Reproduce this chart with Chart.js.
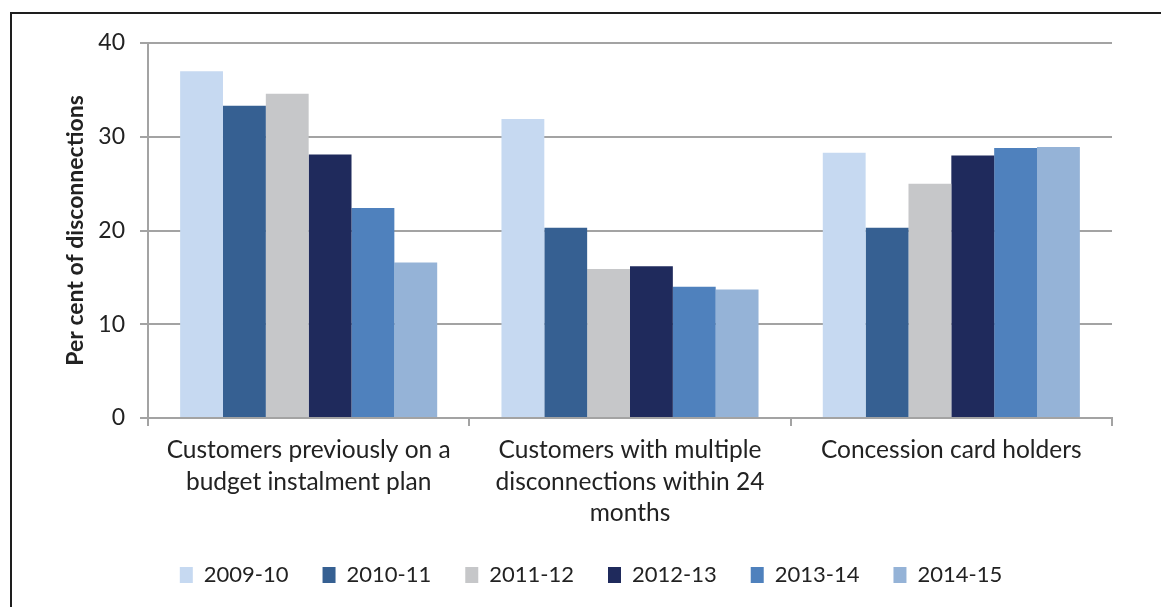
<!DOCTYPE html>
<html>
<head>
<meta charset="utf-8">
<script src="https://cdn.jsdelivr.net/npm/chart.js@4/dist/chart.umd.min.js"></script>
<style>
  html, body { margin: 0; padding: 0; background: #fff; }
  body { width: 1161px; height: 607px; position: relative; overflow: hidden; }
  /* frame: only top and left edges show in the reference */
  #frame {
    position: absolute; left: 10px; top: 12px; width: 1151px; height: 595px;
    border-top: 2px solid #1e1e1e; border-left: 2px solid #1e1e1e;
    box-sizing: border-box;
  }
  #wrap { position: absolute; left: 0; top: 0; width: 1149px; height: 593px; }
</style>
</head>
<body>
<div id="frame"><div id="wrap"><canvas id="chart"></canvas></div></div>
<script>
  // ---- Data -----------------------------------------------
  const categories = [
    ['Customers previously on a', 'budget instalment plan'],
    ['Customers with multiple', 'disconnections within 24', 'months'],
    ['Concession card holders']
  ];
  const seriesNames = ['2009-10', '2010-11', '2011-12', '2012-13', '2013-14', '2014-15'];
  const v2009 = [37.0, 31.9, 28.3];
  const v2010 = [33.3, 20.3, 20.3];
  const v2011 = [34.6, 15.9, 25.0];
  const v2012 = [28.1, 16.2, 28.0];
  const v2013 = [22.4, 14.0, 28.8];
  const v2014 = [16.6, 13.7, 28.9];
  const yTicks = [0, 10, 20, 30, 40];

  const seriesValues = [v2009, v2010, v2011, v2012, v2013, v2014];
  const COLORS = ['#C6D9F1', '#366092', '#C6C7C9', '#1F2A5C', '#4F81BD', '#95B3D7'];
  const GRID = '#A3A3A3';
  const TEXT = '#222222';
  const FONT = "Lato, 'Open Sans', sans-serif";

  const LEGEND_H = 77;
  const LEGEND_SHIFT = 29; // legend row sits a bit right of canvas centre

  // Force legend height so the plot keeps its size, and nudge it right
  const legendFix = {
    id: 'legendFix',
    beforeLayout(chart) {
      const lg = chart.legend;
      if (lg && !lg._fixedH) {
        const fit = lg.fit;
        lg.fit = function () { fit.call(this); this.height = LEGEND_H; };
        lg._fixedH = true;
      }
    },
    afterLayout(chart) {
      const lg = chart.legend;
      if (lg) { lg.left += LEGEND_SHIFT; lg.right += LEGEND_SHIFT; }
    }
  };

  new Chart(document.getElementById('chart'), {
    type: 'bar',
    data: {
      labels: categories,
      datasets: seriesNames.map((name, i) => ({
        label: name,
        data: seriesValues[i],
        backgroundColor: COLORS[i],
        borderWidth: 0,
        categoryPercentage: 0.8,
        barPercentage: 1.0
      }))
    },
    plugins: [legendFix],
    options: {
      responsive: true,
      maintainAspectRatio: false,
      animation: false,
      layout: { padding: { top: 29, right: 49, bottom: 0, left: 0 } },
      plugins: {
        tooltip: { enabled: false },
        legend: {
          position: 'bottom',
          labels: {
            color: TEXT,
            font: { family: FONT, size: 22 },
            boxWidth: 13,
            boxHeight: 16,
            padding: 34
          }
        }
      },
      scales: {
        x: {
          grid: {
            display: true,
            drawOnChartArea: false,
            drawTicks: true,
            tickLength: 8,
            color: GRID,
            lineWidth: 2
          },
          border: { display: true, color: GRID, width: 2 },
          ticks: {
            color: TEXT,
            font: { family: FONT, size: 24.5, lineHeight: 1.27 },
            padding: 9,
            maxRotation: 0,
            autoSkip: false
          },
          afterFit(scale) { scale.height = 112; }
        },
        y: {
          min: 0,
          max: 40,
          afterBuildTicks(scale) { scale.ticks = yTicks.map(v => ({ value: v })); },
          grid: { color: GRID, lineWidth: 2, tickLength: 8 },
          border: { display: true, color: GRID, width: 2 },
          ticks: {
            color: TEXT,
            font: { family: FONT, size: 23 },
            padding: 15
          },
          title: {
            display: true,
            text: 'Per cent of disconnections',
            color: TEXT,
            font: { family: FONT, size: 23, weight: 'bold' },
            padding: { top: 50, bottom: 0 }
          },
          afterFit(scale) { scale.width = 136; }
        }
      }
    }
  });
</script>
</body>
</html>
